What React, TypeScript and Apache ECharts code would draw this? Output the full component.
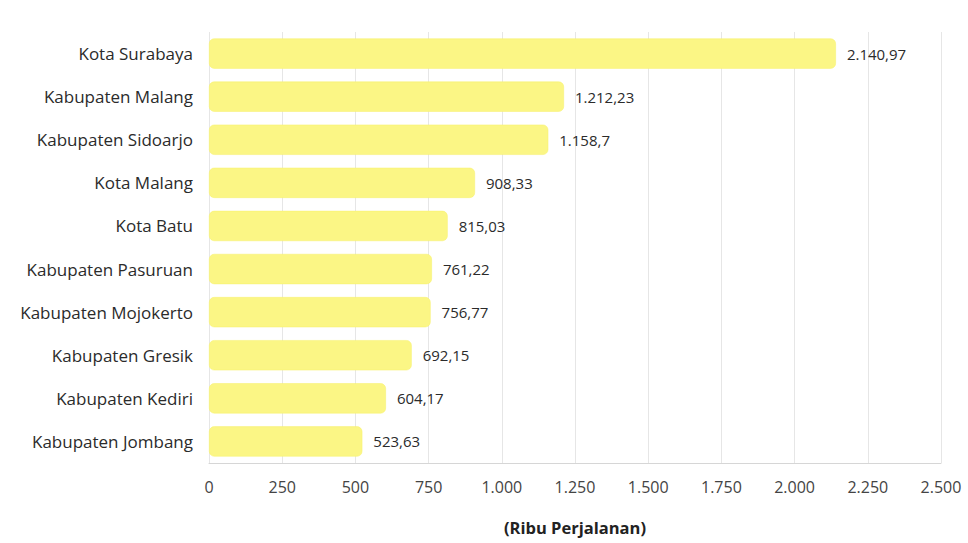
import React, { useEffect, useRef } from "react";
import * as echarts from "echarts";

const categories = [
  "Kota Surabaya",
  "Kabupaten Malang",
  "Kabupaten Sidoarjo",
  "Kota Malang",
  "Kota Batu",
  "Kabupaten Pasuruan",
  "Kabupaten Mojokerto",
  "Kabupaten Gresik",
  "Kabupaten Kediri",
  "Kabupaten Jombang",
];
const values = [2140.97, 1212.23, 1158.7, 908.33, 815.03, 761.22, 756.77, 692.15, 604.17, 523.63];
const axisName = "(Ribu Perjalanan)";

function fmtId(v: number): string {
  const parts = String(v).split(".");
  const intPart = parts[0].replace(/\B(?=(\d{3})+(?!\d))/g, ".");
  return parts.length > 1 ? intPart + "," + parts[1] : intPart;
}

export default function App() {
  const ref = useRef<HTMLDivElement>(null);
  useEffect(() => {
    if (!ref.current) return;
    const chart = echarts.init(ref.current, undefined, { renderer: "svg" });
    const font = "'Open Sans', sans-serif";
    chart.setOption({
      animation: false,
      textStyle: { fontFamily: font },
      grid: { left: 209, right: 27, top: 32, bottom: 80, containLabel: false },
      xAxis: {
        type: "value",
        min: 0,
        max: 2500,
        interval: 250,
        name: axisName,
        nameLocation: "middle",
        nameGap: 56,
        nameTextStyle: { fontSize: 16.5, fontWeight: "bold", color: "#222", fontFamily: font },
        axisLine: { show: true, lineStyle: { color: "#d6d6d6" } },
        axisTick: { show: false },
        splitLine: { show: true, lineStyle: { color: "#e6e6e6" } },
        axisLabel: {
          fontSize: 16,
          color: "#444",
          margin: 16,
          fontFamily: font,
          formatter: (v: number) => fmtId(v),
        },
      },
      yAxis: {
        type: "category",
        data: categories,
        inverse: true,
        axisLine: { show: false },
        axisTick: { show: false },
        axisLabel: { fontSize: 17, color: "#2b2b2b", margin: 16, fontFamily: font },
      },
      series: [
        {
          type: "bar",
          data: values,
          barWidth: "70%",
          itemStyle: {
            color: "#fbf685",
            borderRadius: 5,
            borderColor: "#f7f06a",
            borderWidth: 0.5,
          },
          label: {
            show: true,
            position: "right",
            distance: 11,
            fontSize: 15,
            color: "#2b2b2b",
            fontFamily: font,
            formatter: (p: any) => fmtId(p.value),
          },
        },
      ],
    });
    return () => chart.dispose();
  }, []);
  return (
    <div
      ref={ref}
      style={{ position: "fixed", left: 0, top: 0, width: 968, height: 543, background: "#fff" }}
    />
  );
}
